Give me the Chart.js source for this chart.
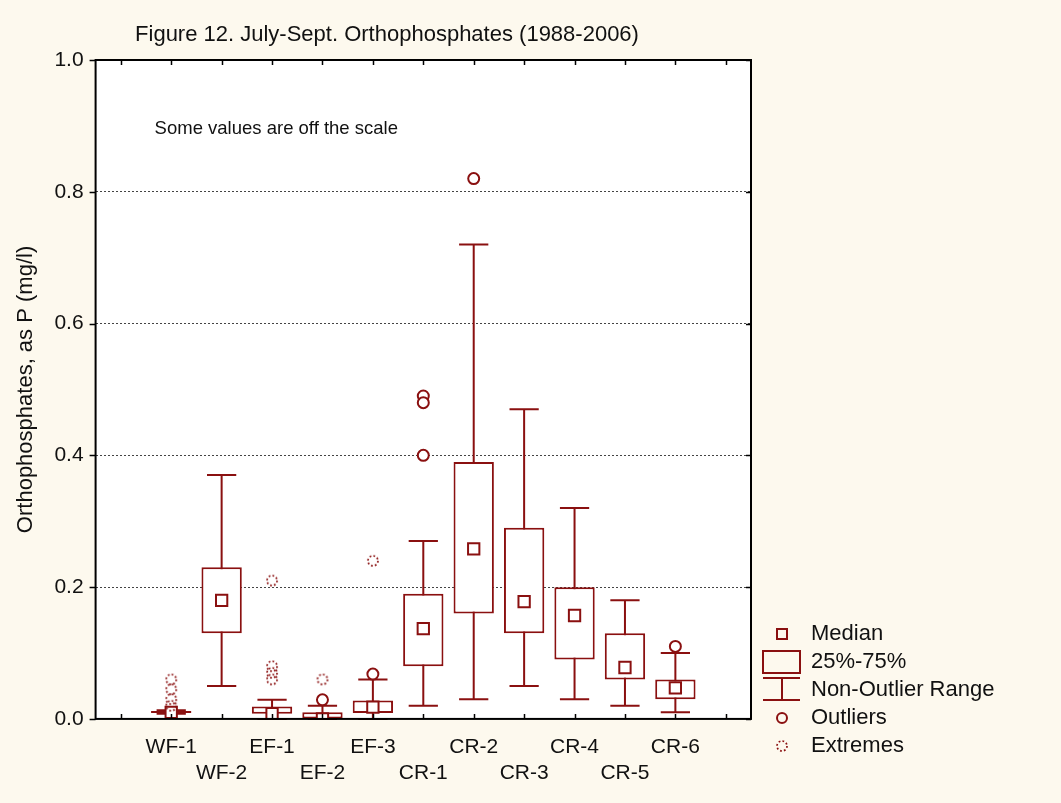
<!DOCTYPE html>
<html>
<head>
<meta charset="utf-8">
<title>Figure 12. July-Sept. Orthophosphates (1988-2006)</title>
<script src="https://cdn.jsdelivr.net/npm/chart.js@4.4.1/dist/chart.umd.min.js"></script>
<style>
  body { margin: 0; background: #fdf9ee; }
  canvas { display: block; }
</style>
</head>
<body>
<canvas id="boxChart" width="1061" height="803"></canvas>
<script>
// stations on the x axis (one empty slot each side, like the original plot)
const stations = ["WF-1", "WF-2", "EF-1", "EF-2", "EF-3", "CR-1", "CR-2", "CR-3", "CR-4", "CR-5", "CR-6"];
// values, mg/l as P
const medians     = [0.010, 0.18, 0.008, 0.000, 0.018, 0.137, 0.258, 0.178, 0.157, 0.078, 0.047];
const q25         = [0.009, 0.13, 0.008, 0.000, 0.009, 0.08,  0.16,  0.13,  0.09,  0.06,  0.03];
const q75         = [0.012, 0.23, 0.019, 0.010, 0.028, 0.19,  0.39,  0.29,  0.20,  0.13,  0.06];
const whiskerLow  = [0.008, 0.05, 0.000, 0.000, 0.000, 0.02,  0.03,  0.05,  0.03,  0.02,  0.01];
const whiskerHigh = [0.013, 0.37, 0.029, 0.020, 0.060, 0.27,  0.72,  0.47,  0.32,  0.18,  0.10];
const outliers = [[], [], [], [0.029], [0.068], [0.49, 0.48, 0.40], [0.82], [], [], [], [0.11]];
const extremes = [[0.06, 0.045, 0.03, 0.02], [], [0.21, 0.08, 0.07, 0.06], [0.06], [0.24], [], [], [], [], [], []];
const yTicks = [0, 0.2, 0.4, 0.6, 0.8, 1.0];

const maroon = "#8a1010";
const font = "'Liberation Sans', Arial, sans-serif";
const slots = [" ", ...stations, "  "];

// dotted ring used for the "Extremes" marker
function extremeIcon() {
    const c = document.createElement("canvas");
    c.width = 14; c.height = 14;
    const g = c.getContext("2d");
    g.strokeStyle = maroon;
    g.lineWidth = 1.7;
    g.setLineDash([1.8, 2.1]);
    g.beginPath();
    g.arc(7, 7, 5, 0, Math.PI * 2);
    g.stroke();
    return c;
}
const extremeMark = extremeIcon();

const boxData = [null, ...stations.map((s, i) => [q25[i], q75[i]]), null];
const medianData = stations.map((s, i) => ({ x: s, y: medians[i] }));
const outlierData = stations.flatMap((s, i) => outliers[i].map(v => ({ x: s, y: v })));
const extremeData = stations.flatMap((s, i) => extremes[i].map(v => ({ x: s, y: v })));

// whiskers go under the boxes
const whiskerPlugin = {
    id: "whiskers",
    beforeDatasetsDraw(chart) {
        const { ctx, scales: { x, y } } = chart;
        const half = (x.getPixelForValue(1) - x.getPixelForValue(0)) * 0.29;
        ctx.save();
        ctx.strokeStyle = maroon;
        ctx.lineWidth = 2;
        stations.forEach((s, i) => {
            const px = x.getPixelForValue(i + 1);
            const lo = y.getPixelForValue(whiskerLow[i]);
            const hi = y.getPixelForValue(whiskerHigh[i]);
            ctx.beginPath();
            ctx.moveTo(px, lo); ctx.lineTo(px, hi);
            ctx.moveTo(px - half, lo); ctx.lineTo(px + half, lo);
            ctx.moveTo(px - half, hi); ctx.lineTo(px + half, hi);
            ctx.stroke();
        });
        ctx.restore();
    }
};

// white plot area, black frame with tick marks, title, note and legend
const framePlugin = {
    id: "frame",
    beforeDraw(chart) {
        const { ctx, chartArea: a } = chart;
        ctx.save();
        ctx.fillStyle = "#ffffff";
        ctx.fillRect(a.left, a.top, a.right - a.left, a.bottom - a.top);
        ctx.restore();
    },
    afterDraw(chart) {
        const { ctx, chartArea: a, scales: { x, y } } = chart;
        ctx.save();
        ctx.strokeStyle = "#000";
        ctx.lineWidth = 2;
        ctx.strokeRect(a.left, a.top, a.right - a.left, a.bottom - a.top);
        ctx.lineWidth = 1.5;
        ctx.beginPath();
        x.ticks.forEach((t, i) => {
            const px = Math.round(x.getPixelForTick(i)) + 0.5;
            ctx.moveTo(px, a.bottom); ctx.lineTo(px, a.bottom - 5);
            ctx.moveTo(px, a.top); ctx.lineTo(px, a.top + 5);
        });
        y.ticks.forEach((t, i) => {
            const py = Math.round(y.getPixelForTick(i)) + 0.5;
            ctx.moveTo(a.left - 6, py); ctx.lineTo(a.left, py);
            ctx.moveTo(a.right, py); ctx.lineTo(a.right - 5, py);
        });
        ctx.stroke();

        ctx.fillStyle = "#111";
        ctx.textBaseline = "middle";
        ctx.font = "22px " + font;
        ctx.textAlign = "center";
        ctx.fillText("Figure 12. July-Sept. Orthophosphates (1988-2006)", 387, 35);
        ctx.textAlign = "left";
        ctx.font = "18.5px " + font;
        ctx.fillText("Some values are off the scale", a.left + 59, y.getPixelForValue(0.895));

        // legend
        const sx = a.right + 31, tx = a.right + 60;
        const rows = [634, 662, 690, 718, 746];
        ctx.strokeStyle = maroon;
        ctx.lineWidth = 2;
        ctx.strokeRect(sx - 5, rows[0] - 5, 10, 10);
        ctx.strokeRect(sx - 19, rows[1] - 11, 37, 22);
        ctx.beginPath();
        ctx.moveTo(sx - 19, rows[2] - 12); ctx.lineTo(sx + 18, rows[2] - 12);
        ctx.moveTo(sx - 19, rows[2] + 10); ctx.lineTo(sx + 18, rows[2] + 10);
        ctx.moveTo(sx, rows[2] - 12); ctx.lineTo(sx, rows[2] + 10);
        ctx.stroke();
        ctx.beginPath();
        ctx.arc(sx, rows[3], 5, 0, Math.PI * 2);
        ctx.stroke();
        ctx.drawImage(extremeMark, sx - 7, rows[4] - 7);
        ctx.font = "22px " + font;
        ["Median", "25%-75%", "Non-Outlier Range", "Outliers", "Extremes"].forEach((txt, i) => {
            ctx.fillText(txt, tx, rows[i]);
        });
        ctx.restore();
    }
};

new Chart(document.getElementById("boxChart"), {
    type: "bar",
    data: {
        labels: slots,
        datasets: [
            {
                type: "line",
                label: "Extremes",
                data: extremeData,
                showLine: false,
                pointStyle: extremeMark,
                order: 1
            },
            {
                type: "line",
                label: "Outliers",
                data: outlierData,
                showLine: false,
                pointStyle: "circle",
                pointRadius: 5.5,
                pointBorderWidth: 2,
                pointBorderColor: maroon,
                pointBackgroundColor: "#fff",
                order: 2
            },
            {
                type: "line",
                label: "Median",
                data: medianData,
                showLine: false,
                pointStyle: "rect",
                pointRadius: 8,
                pointBorderWidth: 2,
                pointBorderColor: maroon,
                pointBackgroundColor: "#fff",
                order: 3
            },
            {
                label: "25%-75%",
                data: boxData,
                backgroundColor: "#fff",
                borderColor: maroon,
                borderWidth: 2,
                borderSkipped: false,
                barPercentage: 0.8,
                categoryPercentage: 1.0,
                order: 4
            }
        ]
    },
    options: {
        responsive: false,
        animation: false,
        events: [],
        layout: { padding: { top: 60, left: 13, right: 310, bottom: 2 } },
        plugins: {
            legend: { display: false },
            title: { display: false },
            tooltip: { enabled: false }
        },
        scales: {
            x: {
                grid: { display: false, drawTicks: false },
                border: { display: false },
                ticks: {
                    autoSkip: false,
                    maxRotation: 0,
                    padding: 15,
                    color: "#111",
                    font: { family: font, size: 21, lineHeight: 1.24 },
                    callback: function (value) {
                        const lab = this.getLabelForValue(value);
                        const k = stations.indexOf(lab);
                        if (k < 0) return "";
                        return k % 2 === 0 ? [lab, ""] : ["", lab];
                    }
                }
            },
            y: {
                min: 0,
                max: 1,
                afterBuildTicks: axis => { axis.ticks = yTicks.map(v => ({ value: v })); },
                grid: {
                    drawTicks: false,
                    lineWidth: 1,
                    color: ctx => (ctx.tick && (ctx.tick.value === 0 || ctx.tick.value === 1)) ? "rgba(0,0,0,0)" : "#444"
                },
                border: { display: false, dash: [2, 2] },
                ticks: {
                    padding: 12,
                    color: "#111",
                    font: { family: font, size: 21 },
                    callback: v => v.toFixed(1)
                },
                title: {
                    display: true,
                    text: "Orthophosphates, as P (mg/l)",
                    color: "#111",
                    font: { family: font, size: 22, lineHeight: 1.2 },
                    padding: { top: 0, bottom: 3 }
                }
            }
        }
    },
    plugins: [whiskerPlugin, framePlugin]
});
</script>
</body>
</html>
